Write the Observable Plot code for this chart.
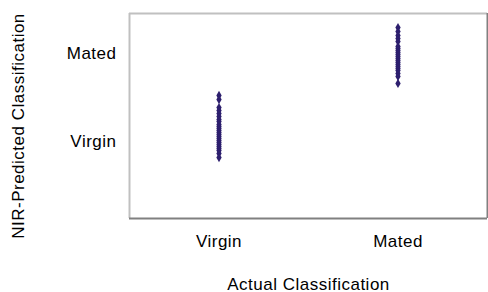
<!DOCTYPE html>
<html>
<head>
<meta charset="utf-8">
<script src="https://cdn.jsdelivr.net/npm/d3@7"></script>
<script src="https://cdn.jsdelivr.net/npm/@observablehq/plot@0.6"></script>
<style>
  html, body { margin: 0; padding: 0; background: #fff; }
  svg { display: block; }
  svg text { letter-spacing: 0.5px; }
</style>
</head>
<body>
<div id="chart"></div>
<script>
const categories = ["Virgin", "Mated"];
const tickLabels = ["Virgin", "Mated"];
const tickValues = [1, 2];
const virginPred = [1.523, 1.477, 1.386, 1.352, 1.318, 1.284, 1.25, 1.227, 1.193, 1.17, 1.148, 1.125, 1.102, 1.08, 1.057, 1.034, 1.011, 0.989, 0.966, 0.943, 0.92, 0.898, 0.864, 0.818];
const matedPred = [2.295, 2.25, 2.205, 2.17, 2.136, 2.08, 2.057, 2.034, 2.011, 1.989, 1.966, 1.943, 1.92, 1.898, 1.875, 1.852, 1.83, 1.807, 1.773, 1.739, 1.66];
const xTitle = "Actual Classification";
const yTitle = "NIR-Predicted Classification";

const data = [
  ...virginPred.map(v => ({actual: categories[0], pred: v})),
  ...matedPred.map(v => ({actual: categories[1], pred: v}))
];
const xDomain = [0.5, 2.5];
const yDomain = [0.125, 2.4545];

const chart = Plot.plot({
  width: 488,
  height: 292,
  marginLeft: 129,
  marginRight: 1,
  marginTop: 13,
  marginBottom: 74,
  style: {fontFamily: "'Liberation Sans', Arial, sans-serif", fontSize: "17px", color: "#000", background: "#fff"},
  x: {domain: xDomain},
  y: {domain: yDomain},
  marks: [
    Plot.axisX(tickValues, {tickFormat: (d, i) => tickLabels[i], tickSize: 0, tickPadding: 16, fontSize: 17, label: null}),
    Plot.axisY(tickValues, {tickFormat: (d, i) => tickLabels[i], tickSize: 0, tickPadding: 13, fontSize: 17, label: null}),
    Plot.ruleY([yDomain[1]], {stroke: "#c0c0c0", strokeWidth: 2}),
    Plot.ruleX([xDomain[0]], {stroke: "#c0c0c0", strokeWidth: 2}),
    Plot.ruleY([yDomain[0]], {stroke: "#808080", strokeWidth: 2}),
    Plot.ruleX([xDomain[1]], {stroke: "#808080", strokeWidth: 2}),
    Plot.dot(data, {x: d => categories.indexOf(d.actual) + 1, y: "pred", symbol: "diamond", r: 2.8, fill: "#2d1f6e", stroke: "none"}),
    Plot.text([xTitle], {frameAnchor: "bottom", dy: 71, fontSize: 17, fill: "#000"}),
    Plot.text([yTitle], {frameAnchor: "left", dx: -111, dy: 10, rotate: -90, textAnchor: "middle", fontSize: 17, fill: "#000"})
  ]
});
document.getElementById("chart").appendChild(chart);
</script>
</body>
</html>
